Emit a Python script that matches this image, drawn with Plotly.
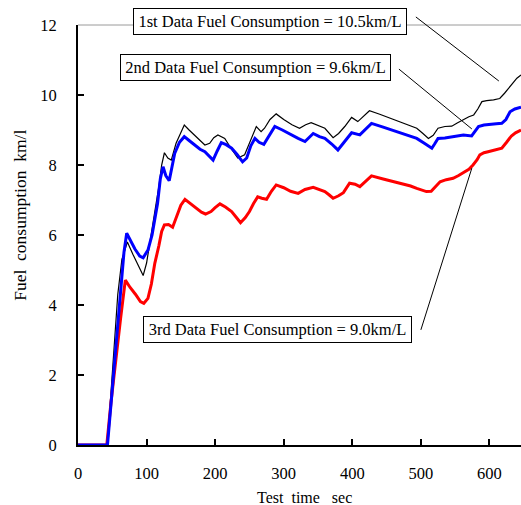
import plotly.graph_objects as go

# ---- measured fuel consumption (km/l) against test time (sec) ----
t_first = [0, 42, 46, 53, 58, 64, 72, 80, 88, 95, 100, 106, 112, 118, 122, 126, 131, 136, 143, 150,
           155, 162, 170, 178, 185, 192, 198, 204, 214, 224, 233, 243, 252, 260, 267, 272, 280, 289,
           300, 312, 323, 332, 340, 350, 360, 372, 380, 389, 399, 408, 416, 425, 440, 460, 480, 494,
           503, 511, 518, 525, 535, 545, 553, 562, 570, 577, 583, 589, 596, 606, 615, 622, 628, 633,
           640, 646]
fc_first = [0, 0, 0.9, 3.0, 4.3, 5.3, 5.8, 5.45, 5.1, 4.84, 5.2, 5.9, 6.6, 7.4, 8.0, 8.35, 8.2, 8.14,
            8.62, 8.95, 9.14, 9.0, 8.86, 8.7, 8.57, 8.62, 8.78, 8.86, 8.76, 8.45, 8.2, 8.29, 8.75,
            9.1, 8.95, 9.05, 9.3, 9.46, 9.3, 9.15, 9.05, 9.15, 9.21, 9.12, 9.05, 8.78, 8.9, 9.1, 9.36,
            9.24, 9.4, 9.55, 9.45, 9.3, 9.15, 9.05, 8.9, 8.76, 8.85, 9.05, 9.1, 9.11, 9.2, 9.3, 9.38,
            9.43, 9.6, 9.81, 9.84, 9.86, 9.9, 10.05, 10.2, 10.33, 10.48, 10.57]

t_second = [0, 43, 50, 57, 63, 67, 71, 76, 83, 90, 95, 102, 108, 116, 120, 124, 128, 133, 137, 141,
            148, 155, 162, 170, 178, 185, 192, 197, 203, 209, 216, 224, 232, 240, 246, 252, 258, 264,
            271, 279, 287, 298, 311, 321, 331, 337, 343, 352, 360, 370, 379, 388, 399, 411, 420, 428,
            445, 465, 480, 494, 505, 516, 520, 525, 535, 542, 552, 562, 574, 580, 584, 592, 601, 610,
            618, 624, 630, 637, 646]
fc_second = [0, 0, 1.6, 3.2, 4.6, 5.5, 6.05, 5.85, 5.6, 5.4, 5.35, 5.57, 6.0, 6.9, 7.6, 7.95, 7.7,
             7.55, 7.9, 8.33, 8.65, 8.81, 8.7, 8.57, 8.45, 8.38, 8.24, 8.14, 8.4, 8.64, 8.58, 8.48,
             8.3, 8.09, 8.2, 8.55, 8.76, 8.65, 8.59, 8.85, 9.1, 9.0, 8.86, 8.76, 8.67, 8.8, 8.9, 8.81,
             8.76, 8.6, 8.43, 8.65, 8.92, 8.86, 9.05, 9.19, 9.08, 8.95, 8.85, 8.76, 8.62, 8.48, 8.6,
             8.76, 8.77, 8.79, 8.82, 8.86, 8.83, 9.0, 9.1, 9.14, 9.17, 9.18, 9.19, 9.3, 9.52, 9.6, 9.65]

t_third = [0, 42, 48, 55, 62, 69, 76, 84, 91, 96, 102, 107, 112, 118, 122, 126, 132, 138, 144, 150,
           156, 164, 172, 180, 186, 194, 200, 207, 215, 224, 231, 237, 244, 250, 256, 262, 268, 275,
           282, 289, 300, 310, 321, 331, 343, 352, 360, 366, 372, 380, 387, 396, 404, 411, 420, 428,
           445, 465, 485, 494, 508, 515, 520, 528, 537, 547, 555, 562, 570, 576, 582, 586, 592, 598,
           608, 618, 625, 632, 638, 646]
fc_third = [0, 0, 1.2, 2.5, 3.6, 4.71, 4.5, 4.3, 4.1, 4.05, 4.19, 4.6, 5.19, 5.7, 6.1, 6.29, 6.3,
            6.22, 6.55, 6.85, 7.02, 6.9, 6.76, 6.65, 6.6, 6.67, 6.78, 6.89, 6.8, 6.67, 6.5, 6.35,
            6.5, 6.67, 6.9, 7.09, 7.05, 7.02, 7.25, 7.43, 7.35, 7.25, 7.19, 7.3, 7.36, 7.29, 7.24,
            7.15, 7.05, 7.12, 7.21, 7.48, 7.45, 7.38, 7.55, 7.69, 7.6, 7.5, 7.4, 7.33, 7.24, 7.25,
            7.35, 7.52, 7.58, 7.62, 7.7, 7.78, 7.88, 8.0, 8.15, 8.29, 8.35, 8.38, 8.43, 8.48, 8.65,
            8.83, 8.92, 9.0]

# callout texts, where each box sits, and where its leader line runs (data units)
label_texts = ["1st Data Fuel Consumption = 10.5km/L",
               "2nd Data Fuel Consumption = 9.6km/L",
               "3rd Data Fuel Consumption = 9.0km/L"]
label_t = [280, 258.7, 290.8]
label_v = [12.1, 10.79, 3.3]
label_box_w = [270, 267, 265]
leader_t0 = [492.7, 468.0, 500.0]
leader_v0 = [12.23, 10.74, 3.29]
leader_t1 = [613.7, 574.3, 574.3]
leader_v1 = [10.4, 9.03, 7.91]

x_ticks = [0, 100, 200, 300, 400, 500, 600]
y_ticks = [0, 2, 4, 6, 8, 10, 12]
X_RANGE = [0, 646]
Y_RANGE = [0, 12]

FONT = "Liberation Serif"


def to_paper_x(t):
    return (t - X_RANGE[0]) / (X_RANGE[1] - X_RANGE[0])


def to_paper_y(v):
    return (v - Y_RANGE[0]) / (Y_RANGE[1] - Y_RANGE[0])


fig = go.Figure()
fig.add_trace(go.Scatter(x=t_first, y=fc_first, mode="lines",
                         line=dict(color="black", width=1.2), name="1st"))
fig.add_trace(go.Scatter(x=t_third, y=fc_third, mode="lines",
                         line=dict(color="#ff0000", width=3), name="3rd"))
fig.add_trace(go.Scatter(x=t_second, y=fc_second, mode="lines",
                         line=dict(color="#0000ff", width=3), name="2nd"))

shapes = [
    # thin grey frame edge along the top of the plotting area
    dict(type="line", xref="paper", yref="paper", x0=0, x1=1, y0=1, y1=1,
         line=dict(color="#9a9a9a", width=1), layer="above"),
]
for a, b, c, d in zip(leader_t0, leader_v0, leader_t1, leader_v1):
    shapes.append(dict(type="line", xref="paper", yref="paper",
                       x0=to_paper_x(a), y0=to_paper_y(b),
                       x1=to_paper_x(c), y1=to_paper_y(d),
                       line=dict(color="black", width=1)))

annotations = []
for txt, t, v, w in zip(label_texts, label_t, label_v, label_box_w):
    annotations.append(dict(x=to_paper_x(t), y=to_paper_y(v), xref="paper", yref="paper",
                            text=txt, showarrow=False, width=w, height=23,
                            xanchor="center", yanchor="middle",
                            font=dict(family=FONT, size=16.5, color="black"),
                            bgcolor="white", bordercolor="black", borderwidth=1, borderpad=1))

annotations.append(dict(x=0.512, y=-0.124, xref="paper", yref="paper",
                        text="Test\u00a0\u00a0time\u00a0\u00a0\u00a0sec", showarrow=False,
                        xanchor="center", yanchor="middle",
                        font=dict(family=FONT, size=16, color="black")))
annotations.append(dict(x=-0.131, y=0.548, xref="paper", yref="paper",
                        text="Fuel\u00a0\u00a0consumption\u00a0\u00a0km/l", showarrow=False,
                        textangle=-90, xanchor="center", yanchor="middle",
                        font=dict(family=FONT, size=17.5, color="black")))

axis_common = dict(showline=True, linecolor="black", linewidth=2, ticks="inside",
                   ticklen=6, tickwidth=2, tickcolor="black", showgrid=False, zeroline=False,
                   tickfont=dict(family=FONT, size=16.5, color="black"))

fig.update_layout(
    width=521, height=505,
    margin=dict(l=78, r=0, t=25, b=60),
    paper_bgcolor="white", plot_bgcolor="white",
    showlegend=False,
    shapes=shapes,
    annotations=annotations,
    xaxis=dict(range=X_RANGE, tickvals=x_ticks, ticklabelstandoff=12, **axis_common),
    yaxis=dict(range=Y_RANGE, tickvals=y_ticks, ticklabelstandoff=16, **axis_common),
)

fig.write_html("out.html")
